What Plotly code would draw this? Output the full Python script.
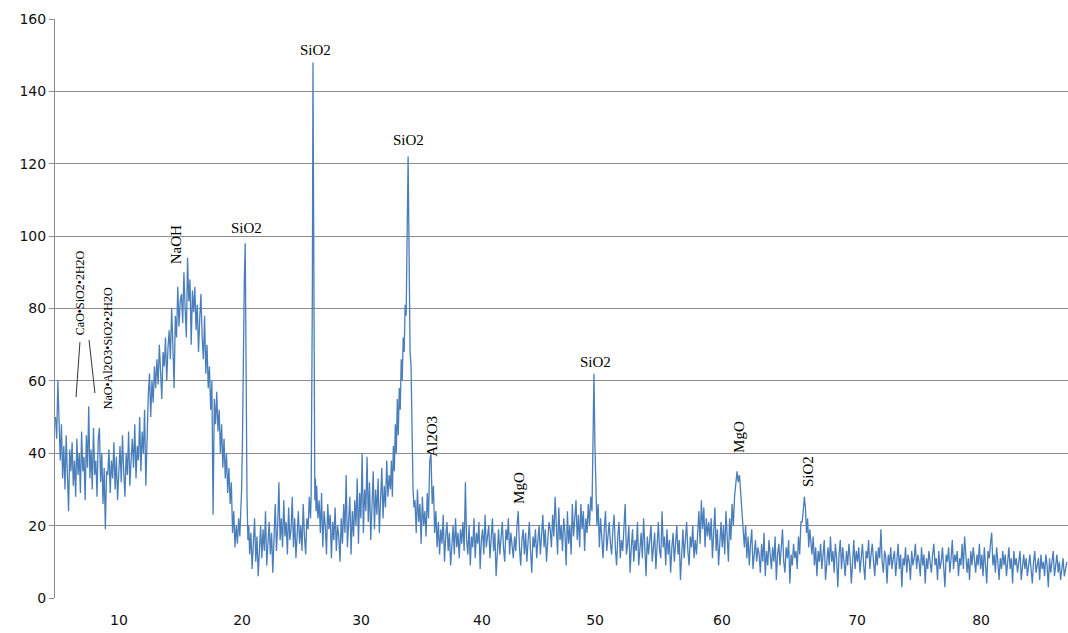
import plotly.graph_objects as go

# ---- XRD pattern: intensity values, grouped by 2-theta segment ----
# each segment: start angle, end angle, intensities (spread evenly over the segment)
seg_a = [50, 44, 60, 46,
         38, 48, 33, 42, 30, 45, 36, 24, 41, 35,
         43, 31, 38, 28, 44, 34, 40, 29, 46, 35,
         39, 27, 45, 36, 53, 33, 41, 30, 47, 34,
         38, 28, 44, 47, 32, 40, 26, 36, 19, 35]
seg_b = [34, 41, 29, 38, 33, 43, 30, 39, 27, 36,
         42, 32, 45, 35, 28, 40, 34, 46, 31, 38,
         44, 36, 48, 33, 42, 38, 50, 35, 46, 40, 52, 31, 47]
seg_c = [56, 62, 50, 60, 54, 64, 58,
         66, 59, 70, 62, 55, 68, 64, 72, 60, 69,
         74, 66, 80, 70, 58, 78, 72, 86, 75, 82]
seg_d = [84, 76, 90, 80, 72, 94, 82, 88, 70, 85,
         79, 86, 74, 81, 68, 77, 84, 72, 66, 78,
         62, 70, 58, 64, 52, 60, 23, 55, 48, 57,
         46, 52, 40, 48, 36, 44, 33, 40, 29, 36,
         26, 32, 18, 24, 14, 20, 15, 22]
seg_e = [17, 24, 30, 45, 70, 88, 98, 60, 28, 16, 20]
seg_f = [12, 18, 8, 15, 22, 10, 17, 6, 14, 20,
         11, 19, 13, 24, 9, 16, 21, 12, 18, 7,
         15, 26, 13, 20, 32, 16, 22, 14, 27, 17,
         21, 12, 25, 16, 19, 28, 14, 22, 11, 18,
         24, 15, 20, 13, 26, 17, 12, 22, 19, 28]
seg_g = [22, 28, 55, 85, 148, 110, 38, 27, 33, 24]
seg_h = [31, 22, 27, 18, 29, 14, 24, 20, 12, 26,
         19, 23, 11, 21, 16, 25, 13, 20, 17, 10,
         22, 15, 26, 18, 34, 14, 21, 28, 12, 24,
         17, 27, 20, 33, 15, 29, 22, 40, 18, 30,
         24, 39, 21, 32, 16, 28, 35, 19, 30, 23,
         33, 18, 27, 36, 22, 31, 25, 38, 28, 34]
seg_i = [30, 38, 28, 42, 35, 48, 40, 55, 45, 58, 52, 66, 60, 72, 68, 81, 78,
         105, 122, 95, 68, 64, 45, 30, 25]
seg_j = [27, 18, 30, 21, 26, 15, 28, 20, 24, 17,
         29, 22, 38, 40, 26, 31, 18, 24, 14, 21,
         12, 19, 15, 23, 10, 17, 21, 13, 18, 9,
         16, 20, 12, 22, 14, 18, 11, 19, 15, 21,
         13, 32, 16, 12, 20, 9, 17, 14, 22, 11,
         18, 15, 21, 8, 16, 19, 12, 23, 14, 17,
         20, 11, 16, 22, 13, 18, 6, 15, 19, 12,
         17, 21, 14, 10, 19, 16, 22, 12, 18, 15,
         11, 17, 13, 20, 24, 14, 9, 16, 19, 12,
         18, 10, 15, 21, 13, 7, 17, 14, 19, 11,
         16, 20, 12, 18, 23, 14, 19, 10, 17, 21]
seg_k = [19, 14, 23, 17, 28, 21, 12, 25, 16, 20,
         13, 22, 18, 9, 24, 15, 20, 12, 26, 17,
         21, 27, 16, 23, 14, 26, 19, 24, 13, 22, 18, 26, 20, 28]
seg_l = [24, 40, 62, 42, 30]
seg_m = [20, 26, 14, 22, 17, 11, 19, 24, 13, 18, 21, 15,
         12, 19, 23, 14, 9, 17, 21, 11, 16, 13,
         18, 26, 12, 15, 20, 7, 14, 19, 10, 16,
         13, 21, 9, 15, 18, 11, 22, 14, 6, 17,
         12, 16, 20, 10, 14, 18, 8, 15, 21, 13,
         11, 24, 14, 17, 9, 19, 12, 16, 7, 14,
         18, 10, 15, 20, 12, 16, 5, 13, 19, 11,
         15, 21, 13, 9, 17, 14, 20, 11, 16, 12,
         18, 24, 15, 27, 19, 25, 14, 22, 17, 21]
seg_n = [16, 22, 11, 18, 25, 13, 19, 9, 17, 21,
         14, 20, 12, 24, 17, 10, 22, 16, 26, 20,
         28, 33, 35, 32, 34, 29, 24, 18, 14, 20,
         11, 17, 9, 15, 19, 8, 13, 16, 10, 14]
seg_o = [12, 7, 15, 10, 18, 6, 13, 9, 16, 11,
         8, 14, 10, 17, 5, 12, 15, 9, 13, 19,
         10, 7, 14, 11, 16, 4, 12, 9, 15, 11,
         13, 8, 17, 12, 21]
seg_p = [21, 24, 28, 25, 18, 22, 14, 19, 16]
seg_q = [12, 17, 9, 14, 6, 13, 10,
         15, 8, 12, 16, 5, 11, 14, 9, 17, 10,
         13, 7, 15, 11, 3, 12, 16, 8, 14, 10,
         6, 13, 9, 15, 11, 4, 12, 16, 8, 13,
         10, 14, 7, 12, 15, 9, 5, 13, 11, 16,
         8, 12, 15, 10, 6, 13, 9, 14, 11, 19,
         10, 7, 13, 11, 4, 12, 9, 14, 8, 11,
         13, 6, 10, 15, 8, 12, 3, 11, 9, 14,
         7, 12, 10, 5, 13, 9, 11, 15, 8, 12,
         10, 6, 14, 9, 12, 4, 11, 8, 13, 10,
         7, 12, 15, 9, 11, 5, 13, 8, 10, 14,
         9, 3, 12, 10, 14, 7, 11, 16, 8, 12,
         10, 13, 6, 11, 9, 15, 8, 17, 12, 7,
         11, 5, 13, 9, 14, 10, 7, 12, 9, 15,
         8, 12, 6, 14, 10, 4, 13, 11, 15, 18,
         9, 12, 7, 14, 10, 5, 11, 8, 13, 9,
         12, 6, 10, 14, 8, 11, 4, 13, 9, 11,
         7, 10, 13, 5, 9, 12, 8, 11, 6, 10,
         12, 8, 4, 10, 13, 7, 9, 11, 5, 12,
         8, 10, 6, 12, 9, 3, 11, 7, 10, 13,
         6, 9, 12, 7, 10, 5, 9, 11, 6, 8, 10]

segments = [
    (4.75, 9.0, seg_a), (9.0, 12.3, seg_b), (12.3, 15.0, seg_c), (15.0, 19.75, seg_d),
    (19.75, 20.55, seg_e), (20.55, 25.5, seg_f), (25.5, 26.0, seg_g), (26.0, 32.0, seg_h),
    (32.0, 34.0, seg_i), (34.0, 45.0, seg_j), (45.0, 48.4, seg_k), (48.4, 48.8, seg_l),
    (48.8, 58.0, seg_m), (58.0, 62.0, seg_n), (62.0, 65.5, seg_o), (65.5, 66.3, seg_p),
    (66.3, 87.13, seg_q),
]

# axis tick labels (positions as they appear on the reference axis)
tick_vals = [9.92, 19.93, 29.61, 39.45, 48.65, 58.98, 69.97, 80.06]
tick_text = ["10", "20", "30", "40", "50", "60", "70", "80"]

# phase labels: (text, 2theta, intensity, rotated, font size)
phase_labels = [
    ("SiO2", 25.87, 151.4, False, 15),
    ("SiO2", 33.51, 126.6, False, 15),
    ("SiO2", 20.25, 102.2, False, 15),
    ("SiO2", 48.65, 65.2, False, 15),
    ("NaOH", 14.56, 97.5, True, 15),
    ("Al2O3", 35.38, 44.8, True, 15),
    ("MgO", 42.46, 30.4, True, 15),
    ("MgO", 60.36, 44.5, True, 15),
    ("SiO2", 65.98, 34.8, True, 15),
    ("CaO•SiO2•2H2O", 6.74, 84.5, True, 12),
    ("NaO•Al2O3•SiO2•2H2O", 9.05, 69.1, True, 12),
]
leader_lines = [((6.74, 70.7), (6.42, 55.5)), ((7.48, 71.3), (7.96, 56.6))]

x, y = [], []
for start, end, vals in segments:
    step = (end - start) / len(vals)
    x += [start + i * step for i in range(len(vals))]
    y += vals

fig = go.Figure()
fig.add_trace(go.Scatter(x=x, y=y, mode="lines",
                         line=dict(color="#4A7EBB", width=1.3), showlegend=False,
                         hoverinfo="x+y"))

for text, xv, yv, rot, fs in phase_labels:
    fig.add_annotation(x=xv, y=yv, xref="x", yref="y", text=text, showarrow=False,
                       textangle=-90 if rot else 0,
                       font=dict(family="Liberation Serif", size=fs, color="#000000"))

for (x0, y0), (x1, y1) in leader_lines:
    fig.add_shape(type="line", x0=x0, y0=y0, x1=x1, y1=y1, xref="x", yref="y",
                  line=dict(color="#333333", width=1))

fig.update_layout(
    width=1068, height=633,
    margin=dict(l=55, r=0, t=19, b=35),
    paper_bgcolor="white", plot_bgcolor="white",
    font=dict(family="DejaVu Sans", size=14, color="#111111"),
)
fig.update_xaxes(range=[4.71, 87.13], tickmode="array", tickvals=tick_vals, ticktext=tick_text,
                 showgrid=False, zeroline=False, showline=False, ticks="",
                 ticklabelstandoff=12,
                 tickfont=dict(family="DejaVu Sans", size=14, color="#111111"))
fig.update_yaxes(range=[0, 160], dtick=20, tick0=0, showgrid=True, gridcolor="#8c8c8c",
                 gridwidth=1, zeroline=False, showline=True, linecolor="#8c8c8c", linewidth=1,
                 ticks="outside", ticklen=5, tickcolor="#8c8c8c",
                 tickfont=dict(family="DejaVu Sans", size=14, color="#111111"))

fig.write_html("out.html", config={"displayModeBar": False},
               post_script="document.body.style.margin='0px';document.body.style.overflow='hidden';")
